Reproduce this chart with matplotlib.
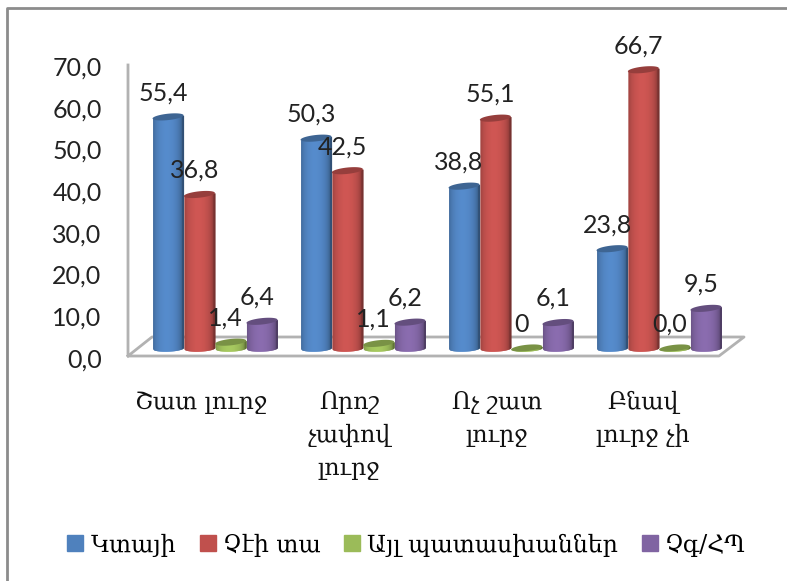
import numpy as np
import matplotlib
matplotlib.use("Agg")
from matplotlib import pyplot as plt
from matplotlib.lines import Line2D
from matplotlib.patches import Patch
from matplotlib.transforms import ScaledTranslation

categories = ["Շատ լուրջ", "Որոշ\nչափով\nլուրջ", "Ոչ շատ\nլուրջ", "Բնավ\nլուրջ չի"]
series_names = ["Կտայի", "Չէի տա", "Այլ պատասխաններ", "Չգ/ՀՊ"]
would_give = [55.4, 50.3, 38.8, 23.8]
would_not = [36.8, 42.5, 55.1, 66.7]
other = [1.4, 1.1, 0, 0]
no_answer = [6.4, 6.2, 6.1, 9.5]
value_labels = [
    ["55,4", "50,3", "38,8", "23,8"],
    ["36,8", "42,5", "55,1", "66,7"],
    ["1,4", "1,1", "0", "0,0"],
    ["6,4", "6,2", "6,1", "9,5"],
]
yticks = [0, 10, 20, 30, 40, 50, 60, 70]
colors = ["#4f81bd", "#c0504d", "#9bbb59", "#8064a2"]

W, H = 787, 581
GROUP_PX = 148.0
BAR = 31.0 / GROUP_PX


def cylinder(ax, x, v, color, dy):
    # vertical strips, darker at the sides, then a tilted cap on top
    rgb = np.array(matplotlib.colors.to_rgb(color))
    edges = np.linspace(-1, 1, 33)
    step = edges[1] - edges[0]
    ry = 3.2 * dy
    tilt = 1.6 * dy
    r = BAR / 2
    for a in edges[:-1]:
        m = a + step / 2
        shade = 0.62 + 0.46 * np.sqrt(max(0, 1 - (m + 0.1) ** 2))
        # overlap the next strip so no seams show
        t = np.linspace(a, min(a + 2 * step, 1), 5)
        low = -ry * np.sqrt(1 - t ** 2) + tilt * t * 0.4
        high = v + tilt * t
        ax.fill_between(x + t * r, low, high, color=np.clip(rgb * shade, 0, 1),
                        lw=0, clip_on=False, zorder=3)
    th = np.linspace(0, 2 * np.pi, 60)
    ax.fill(x + r * np.cos(th), v + ry * np.sin(th) + tilt * np.cos(th),
            color=rgb * 0.78, lw=0, clip_on=False, zorder=4)


fig = plt.figure(figsize=(W / 100, H / 100), dpi=100)
plt.rcParams["font.family"] = ["Lato", "DejaVu Sans"]
ax = fig.add_axes([128 / W, 1 - 348 / H, (745 - 128) / W, 292 / H])
ax.patch.set_visible(False)
ax.set_ylim(0, 70)
ax.set_xlim((128 - 215) / GROUP_PX, (745 - 215) / GROUP_PX)
for s in ax.spines.values():
    s.set_visible(False)

dy = 70 / 292.0
all_series = [would_give, would_not, other, no_answer]
for j, vals in enumerate(all_series):
    for i, v in enumerate(vals):
        x = i + (j - 1.5) * 31.3 / GROUP_PX
        cylinder(ax, x, v, colors[j], dy)
        ax.annotate(value_labels[j][i], (x, v), xytext=(-5 * 0.72, 24 * 0.72),
                    textcoords="offset points", ha="center", va="center",
                    fontsize=18, color="#222222", zorder=6, annotation_clip=False)

ax.set_yticks(yticks)
ax.set_yticklabels([("%.1f" % t).replace(".", ",") for t in yticks],
                   fontsize=18, color="#222222")
ax.tick_params(axis="y", length=0, pad=19)
shift = ScaledTranslation(0, -10 / 100, fig.dpi_scale_trans)
for lab in ax.get_yticklabels():
    lab.set_transform(lab.get_transform() + shift)

label_px = [201, 349, 497, 643]
ax.set_xticks([(p - 215) / GROUP_PX for p in label_px])
ax.set_xticklabels(categories, fontsize=17, family="DejaVu Serif", color="#111111",
                   linespacing=1.55)
ax.tick_params(axis="x", length=0, pad=31)


def px_line(xs, ys, color="#b2b2b2", lw=2):
    fig.add_artist(Line2D([x / W for x in xs], [1 - y / H for y in ys],
                          color=color, lw=lw, zorder=-1))


# chart frame, floor and back wall edge
px_line([7, 7, 787], [581, 8, 8], color="#8c8c8c")
px_line([128, 128, 719, 744, 152, 128], [65, 356, 356, 337, 337, 356])

handles = [Patch(color=c) for c in colors]
fig.legend(handles, series_names, loc="center", bbox_to_anchor=(406.5 / W, 1 - 545 / H), ncol=4,
           frameon=False, prop={"family": "DejaVu Serif", "size": 17},
           handlelength=0.68, handleheight=0.68, handletextpad=0.3, columnspacing=1.0)

fig.savefig("out.png", dpi=100)
